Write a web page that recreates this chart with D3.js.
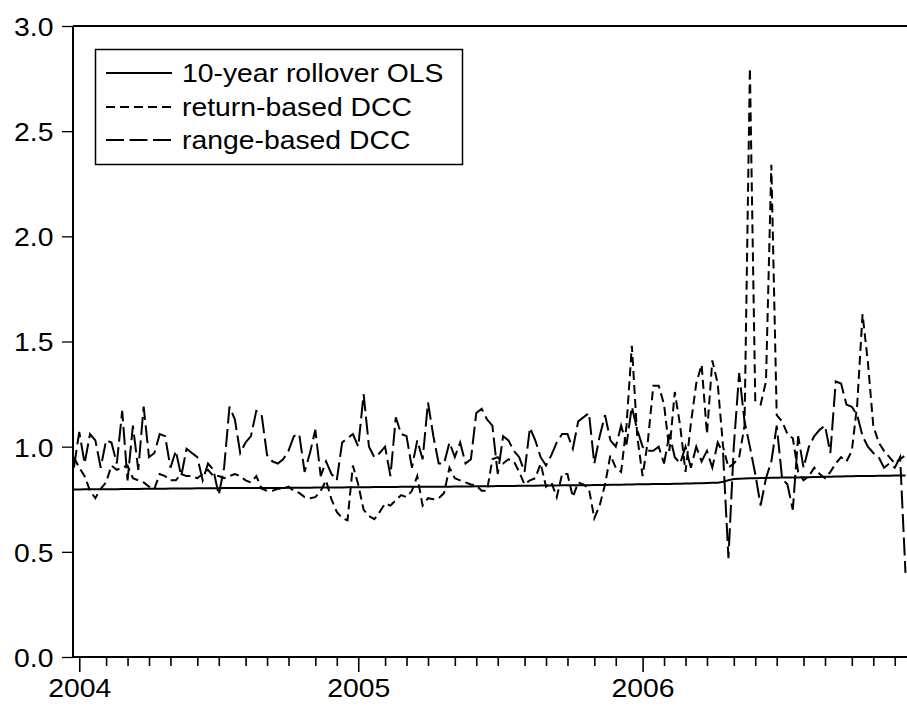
<!DOCTYPE html>
<html>
<head>
<meta charset="utf-8">
<script src="https://cdn.jsdelivr.net/npm/d3@7"></script>
<style>
  html, body { margin: 0; padding: 0; background: #fff; }
  svg { display: block; }
  text { font-family: "Liberation Sans", Arial, Helvetica, sans-serif; fill: #000; }
</style>
</head>
<body>
<svg id="chart" width="907" height="707"></svg>
<script>
// Weekly observations, Saturday-dated, from late December 2003 to mid December 2006
const firstWeek = new Date(2003, 11, 27);
const lastWeek = new Date(2006, 11, 17);

// 10-year rollover OLS hedge ratio
const olsRatio = [
  0.796,0.796,0.797,0.797,0.797,0.798,0.798,0.798,0.798,0.799,
  0.799,0.799,0.799,0.800,0.800,0.800,0.800,0.800,0.801,0.801,
  0.801,0.801,0.801,0.802,0.802,0.802,0.802,0.802,0.803,0.803,
  0.803,0.803,0.803,0.803,0.804,0.804,0.804,0.804,0.804,0.804,
  0.805,0.805,0.805,0.805,0.805,0.806,0.806,0.806,0.806,0.806,
  0.806,0.807,0.807,0.807,0.807,0.807,0.808,0.808,0.808,0.808,
  0.808,0.809,0.809,0.809,0.809,0.809,0.810,0.810,0.810,0.810,
  0.810,0.811,0.811,0.811,0.811,0.812,0.812,0.812,0.812,0.813,
  0.813,0.813,0.813,0.814,0.814,0.814,0.814,0.815,0.815,0.815,
  0.815,0.816,0.816,0.816,0.817,0.817,0.817,0.818,0.818,0.818,
  0.819,0.819,0.819,0.820,0.820,0.821,0.821,0.821,0.822,0.822,
  0.823,0.823,0.824,0.824,0.825,0.825,0.826,0.826,0.827,0.828,
  0.829,0.833,0.840,0.846,0.848,0.849,0.850,0.850,0.851,0.851,
  0.852,0.852,0.853,0.853,0.854,0.854,0.855,0.855,0.856,0.856,
  0.857,0.857,0.858,0.858,0.859,0.859,0.860,0.860,0.861,0.861,
  0.862,0.862,0.862,0.863,0.863,0.863
];

// Return-based DCC hedge ratio
const returnDcc = [
  0.95,0.90,0.86,0.79,0.755,0.80,0.83,0.91,0.89,0.90,
  0.91,0.85,0.84,0.83,0.81,0.80,0.87,0.86,0.84,0.84,
  0.87,0.86,0.86,0.85,0.87,0.89,0.86,0.86,0.85,0.86,
  0.87,0.86,0.84,0.83,0.86,0.80,0.79,0.79,0.80,0.80,
  0.81,0.79,0.78,0.76,0.755,0.76,0.79,0.84,0.75,0.69,
  0.66,0.65,0.91,0.82,0.70,0.67,0.655,0.69,0.73,0.72,
  0.745,0.77,0.76,0.79,0.86,0.72,0.755,0.75,0.755,0.78,
  0.90,0.85,0.84,0.83,0.82,0.815,0.79,0.79,0.94,0.95,
  0.92,0.94,0.93,0.88,0.82,0.84,0.85,0.92,0.81,0.83,
  0.76,0.87,0.87,0.76,0.83,0.82,0.80,0.66,0.72,0.82,
  0.96,0.90,0.88,1.10,1.48,1.05,0.86,1.03,1.29,1.29,
  1.20,0.98,1.26,1.10,0.88,1.11,1.30,1.39,1.06,1.41,
  1.30,1.00,0.90,0.92,0.95,1.10,2.80,1.22,1.20,1.31,
  2.34,1.15,1.12,1.06,1.04,0.88,0.84,0.86,0.90,0.87,
  0.85,0.88,0.92,0.95,0.93,0.98,1.20,1.63,1.40,1.10,
  1.02,0.98,0.95,0.92,0.94,0.96
];

// Range-based DCC hedge ratio
const rangeDcc = [
  0.90,1.07,0.92,1.06,1.03,0.90,1.03,1.02,0.92,1.17,
  0.84,1.10,0.89,1.19,0.95,0.97,1.06,1.05,0.90,0.98,
  0.86,0.99,0.97,0.95,0.84,0.92,0.89,0.77,0.90,1.19,
  1.13,0.97,1.02,1.05,1.17,1.15,0.96,0.93,0.92,0.94,
  0.98,1.05,1.06,0.88,0.97,1.08,0.86,0.93,0.87,0.84,
  1.02,1.04,1.06,1.00,1.25,1.00,0.95,0.97,1.00,0.86,
  1.14,1.06,1.05,0.90,1.03,0.94,1.21,1.05,0.92,0.92,
  1.02,0.95,1.02,0.92,0.94,1.16,1.18,1.13,1.10,0.87,
  1.05,1.03,0.98,0.95,0.88,1.09,1.03,0.95,0.91,0.96,
  1.02,1.06,1.06,0.99,1.12,1.14,1.16,0.92,1.05,1.15,
  1.03,1.00,1.10,1.01,1.19,1.08,1.00,0.98,0.98,1.00,
  0.92,1.06,0.95,0.92,1.00,0.90,1.00,0.93,0.98,0.90,
  1.02,0.97,0.47,1.00,1.35,1.12,1.00,0.87,0.72,0.85,
  0.93,1.10,0.85,0.82,0.70,1.05,0.90,1.00,1.05,1.08,
  1.10,0.97,1.31,1.30,1.20,1.19,1.15,1.05,1.00,0.97,
  0.95,0.90,0.92,0.90,0.95,0.40
];

const yTickValues = [0.0, 0.5, 1.0, 1.5, 2.0, 2.5, 3.0];
const seriesNames = ["10-year rollover OLS", "return-based DCC", "range-based DCC"];

const weeks = d3.timeSaturday.range(firstWeek, d3.timeDay.offset(lastWeek, 1));

const svg = d3.select("#chart");
const W = 907, H = 707;
const plot = { left: 73, top: 26, right: 907, bottom: 657 };
const fontSize = 26, stretch = 1.09;

// observation index -> horizontal position
const x = d3.scaleLinear().domain([0, 1]).range([73.9, 79.265]);
const y = d3.scaleLinear().domain([0, 3]).range([plot.bottom, plot.top]);

svg.append("rect").attr("width", W).attr("height", H).attr("fill", "#fff");

svg.append("defs").append("clipPath").attr("id", "plotClip")
  .append("rect")
  .attr("x", plot.left).attr("y", plot.top - 2)
  .attr("width", plot.right - plot.left).attr("height", plot.bottom - plot.top + 2);

// Series lines
const line = d3.line().x((d, i) => x(i)).y(d => y(d));
const lines = svg.append("g").attr("clip-path", "url(#plotClip)");
const styles = [
  { data: olsRatio, dash: null },
  { data: returnDcc, dash: "9,5" },
  { data: rangeDcc, dash: "18,5.5" }
];
styles.forEach(s => {
  lines.append("path")
    .datum(s.data)
    .attr("d", line)
    .attr("fill", "none")
    .attr("stroke", "#000")
    .attr("stroke-width", 2)
    .attr("stroke-linejoin", "miter")
    .attr("stroke-dasharray", s.dash);
});

// Frame: left axis, bottom axis, top edge
const frame = svg.append("g").attr("stroke", "#000").attr("stroke-width", 2).attr("fill", "none");
frame.append("line").attr("x1", plot.left).attr("x2", plot.left).attr("y1", plot.top).attr("y2", plot.bottom + 1);
frame.append("line").attr("x1", plot.left).attr("x2", plot.right).attr("y1", plot.bottom).attr("y2", plot.bottom);
frame.append("line").attr("x1", plot.left).attr("x2", plot.right).attr("y1", plot.top).attr("y2", plot.top);

// Y axis
const yAxis = d3.axisLeft(y)
  .tickValues(yTickValues)
  .tickFormat(d3.format(".1f"))
  .tickSize(11)
  .tickPadding(7);
const yg = svg.append("g").attr("transform", `translate(${plot.left},0)`).call(yAxis);
yg.select(".domain").remove();
yg.selectAll(".tick line").attr("stroke", "#000").attr("stroke-width", 1.3);
yg.selectAll(".tick text")
  .attr("font-size", fontSize)
  .attr("font-family", "Liberation Sans, Arial, sans-serif")
  .attr("dy", "0.36em")
  .attr("fill", "#000")
  .attr("transform", `scale(${stretch},1)`);

// X axis: a tick at the first week of each month, longer ticks and labels at each new year
const monthStarts = [], yearStarts = [];
weeks.forEach((d, i) => {
  if (i === 0) return;
  const p = weeks[i - 1];
  if (d.getMonth() !== p.getMonth()) {
    if (d.getFullYear() !== p.getFullYear()) yearStarts.push(i);
    else monthStarts.push(i);
  }
});

const xMinor = d3.axisBottom(x).tickValues(monthStarts).tickSize(9).tickFormat("");
const xm = svg.append("g").attr("transform", `translate(0,${plot.bottom})`).call(xMinor);
xm.select(".domain").remove();
xm.selectAll(".tick line").attr("stroke", "#000").attr("stroke-width", 1.6);

const xMajor = d3.axisBottom(x).tickValues(yearStarts).tickSize(15).tickPadding(7)
  .tickFormat(i => d3.timeFormat("%Y")(weeks[i]));
const xM = svg.append("g").attr("transform", `translate(0,${plot.bottom})`).call(xMajor);
xM.select(".domain").remove();
xM.selectAll(".tick line").attr("stroke", "#000").attr("stroke-width", 1.6);
xM.selectAll(".tick text")
  .attr("font-size", fontSize)
  .attr("font-family", "Liberation Sans, Arial, sans-serif")
  .attr("fill", "#000")
  .attr("transform", `scale(${stretch},1)`);

// Legend
const legend = svg.append("g");
legend.append("rect")
  .attr("x", 95.5).attr("y", 49.5).attr("width", 367).attr("height", 115)
  .attr("fill", "#fff").attr("stroke", "#000").attr("stroke-width", 1.5);
const rowY = [73, 107, 140];
seriesNames.forEach((name, k) => {
  legend.append("line")
    .attr("x1", 106).attr("x2", 172)
    .attr("y1", rowY[k]).attr("y2", rowY[k])
    .attr("stroke", "#000").attr("stroke-width", 2)
    .attr("stroke-dasharray", styles[k].dash);
  legend.append("text")
    .attr("transform", `translate(182,${rowY[k]}) scale(${stretch},1)`)
    .attr("dy", "0.36em")
    .attr("font-size", fontSize)
    .text(name);
});
</script>
</body>
</html>
